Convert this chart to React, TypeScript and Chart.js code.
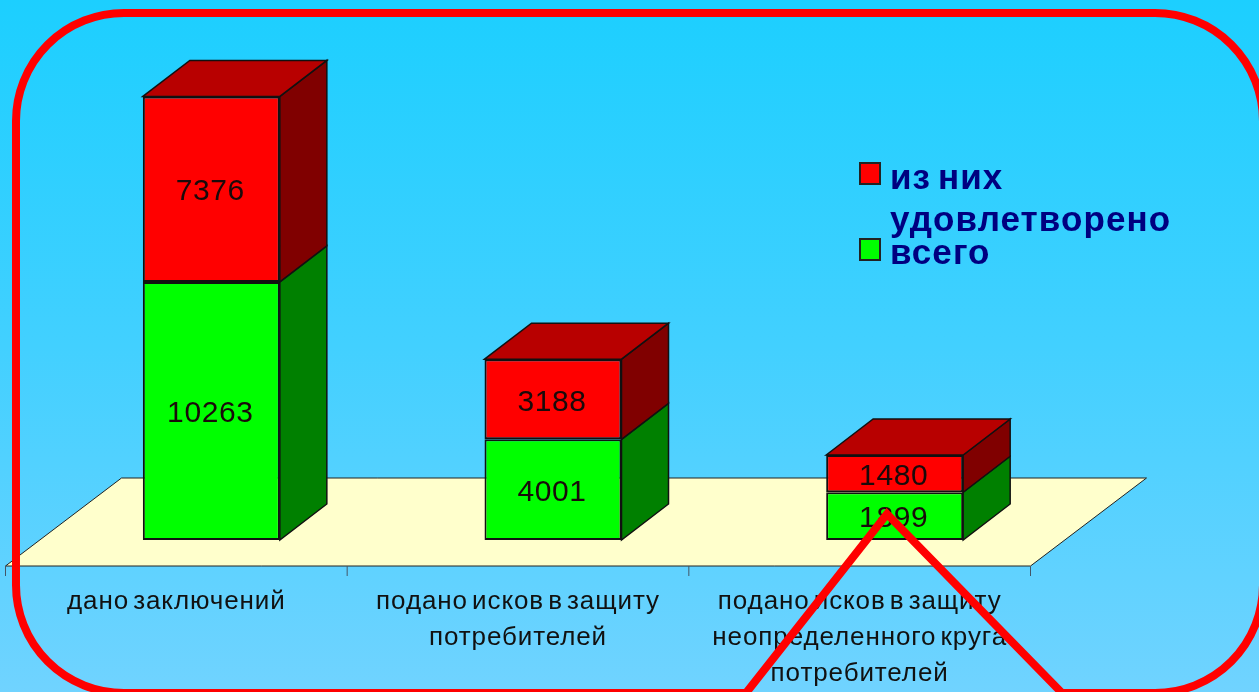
import React, { useEffect, useRef } from "react";
import { Chart, registerables } from "chart.js";

Chart.register(...registerables);

const categories = [
  ["дано заключений"],
  ["подано исков в защиту", "потребителей"],
  ["подано исков в защиту", "неопределенного круга", "потребителей"],
];
const totalValues = [10263, 4001, 1899];
const satisfiedValues = [7376, 3188, 1480];
const totalLabel = "всего";
const satisfiedLabel = "из них удовлетворено";

const DX = 47;
const DY = 36;

const scene = {
  id: "scene",
  beforeDraw(chart: any) {
    const { ctx, width, height } = chart;
    const g = ctx.createLinearGradient(0, 0, 0, height);
    g.addColorStop(0, "#1ccfff");
    g.addColorStop(0.5, "#42d0ff");
    g.addColorStop(1, "#70d3ff");
    ctx.fillStyle = g;
    ctx.fillRect(0, 0, width, height);
    ctx.letterSpacing = "0.9px";
    ctx.wordSpacing = "-4px";
  },
  beforeDatasetsDraw(chart: any) {
    const { ctx, scales } = chart;
    const x = scales.x;
    const bottom = scales.y.bottom;
    const fl = x.left - 35;
    const fr = x.right - 35;
    const fy = bottom + 26;
    ctx.save();
    ctx.fillStyle = "#ffffcc";
    ctx.strokeStyle = "#222";
    ctx.lineWidth = 1;
    ctx.beginPath();
    ctx.moveTo(fl, fy);
    ctx.lineTo(fr, fy);
    ctx.lineTo(fr + 116, fy - 88);
    ctx.lineTo(fl + 116, fy - 88);
    ctx.closePath();
    ctx.fill();
    ctx.stroke();
    ctx.strokeStyle = "#456";
    for (let i = 0; i <= categories.length; i++) {
      const tx = fl + ((fr - fl) * i) / categories.length;
      ctx.beginPath();
      ctx.moveTo(tx, fy);
      ctx.lineTo(tx, fy + 10);
      ctx.stroke();
    }
    const sides = ["#008000", "#800000"];
    chart.data.datasets.forEach((_: any, d: number) => {
      chart.getDatasetMeta(d).data.forEach((bar: any) => {
        const r = bar.x + bar.width / 2;
        ctx.beginPath();
        ctx.moveTo(r, bar.y);
        ctx.lineTo(r + DX, bar.y - DY);
        ctx.lineTo(r + DX, bar.base - DY);
        ctx.lineTo(r, bar.base);
        ctx.closePath();
        ctx.fillStyle = sides[d];
        ctx.fill();
        ctx.strokeStyle = "#111";
        ctx.lineWidth = 1.5;
        ctx.stroke();
      });
    });
    ctx.restore();
  },
  afterDatasetsDraw(chart: any) {
    const { ctx } = chart;
    ctx.save();
    chart.getDatasetMeta(1).data.forEach((bar: any) => {
      const l = bar.x - bar.width / 2;
      const r = bar.x + bar.width / 2;
      ctx.beginPath();
      ctx.moveTo(l, bar.y);
      ctx.lineTo(l + DX, bar.y - DY);
      ctx.lineTo(r + DX, bar.y - DY);
      ctx.lineTo(r, bar.y);
      ctx.closePath();
      ctx.fillStyle = "#b80000";
      ctx.fill();
      ctx.strokeStyle = "#111";
      ctx.lineWidth = 1.5;
      ctx.stroke();
    });
    ctx.fillStyle = "#1a0a0a";
    ctx.font = "30px 'Liberation Sans'";
    ctx.letterSpacing = "0.6px";
    ctx.textAlign = "center";
    ctx.textBaseline = "middle";
    chart.data.datasets.forEach((ds: any, d: number) => {
      chart.getDatasetMeta(d).data.forEach((bar: any, i: number) => {
        ctx.fillText(String(ds.data[i]), bar.x - 1, (bar.y + bar.base) / 2 + 3);
      });
    });
    ctx.restore();
  },
  afterDraw(chart: any) {
    const { ctx } = chart;
    ctx.save();
    // legend
    ctx.font = "bold 35px 'Liberation Sans'";
    ctx.letterSpacing = "1.1px";
    ctx.wordSpacing = "-4px";
    ctx.textAlign = "left";
    ctx.textBaseline = "alphabetic";
    const entries = [
      { ds: chart.data.datasets[1], box: 163, lines: [189, 231] },
      { ds: chart.data.datasets[0], box: 239, lines: [264] },
    ];
    const words = (label: string, n: number) => {
      if (n === 1) return [label];
      const parts = label.split(" ");
      return [parts.slice(0, -1).join(" "), parts[parts.length - 1]];
    };
    entries.forEach((e) => {
      ctx.fillStyle = e.ds.backgroundColor;
      ctx.strokeStyle = "#222";
      ctx.lineWidth = 2;
      ctx.fillRect(860, e.box, 20, 21);
      ctx.strokeRect(860, e.box, 20, 21);
      ctx.fillStyle = "#000080";
      words(e.ds.label, e.lines.length).forEach((t, i) => ctx.fillText(t, 890, e.lines[i]));
    });
    // red callout frame
    const L = 16, T = 13, R = 1263, B = 693, Q = 108;
    ctx.strokeStyle = "#ff0000";
    ctx.lineWidth = 8;
    ctx.lineJoin = "miter";
    ctx.beginPath();
    ctx.moveTo(887, 514);
    ctx.lineTo(746, B);
    ctx.lineTo(L + Q, B);
    ctx.arcTo(L, B, L, B - Q, Q);
    ctx.lineTo(L, T + Q);
    ctx.arcTo(L, T, L + Q, T, Q);
    ctx.lineTo(R - Q, T);
    ctx.arcTo(R, T, R, T + Q, Q);
    ctx.lineTo(R, B - Q);
    ctx.arcTo(R, B, R - Q, B, Q);
    ctx.lineTo(1062, B);
    ctx.closePath();
    ctx.stroke();
    ctx.restore();
  },
};

export default function App() {
  const ref = useRef<HTMLCanvasElement>(null);
  useEffect(() => {
    document.body.style.margin = "0";
    const chart = new Chart(ref.current as HTMLCanvasElement, {
      type: "bar",
      data: {
        labels: categories as any,
        datasets: [
          { label: totalLabel, data: totalValues, backgroundColor: "#00ff00", borderColor: "#111", borderWidth: 2, borderSkipped: false },
          { label: satisfiedLabel, data: satisfiedValues, backgroundColor: "#ff0000", borderColor: "#111", borderWidth: 2, borderSkipped: false },
        ],
      },
      options: {
        responsive: false,
        animation: false,
        barPercentage: 0.401,
        categoryPercentage: 1,
        layout: { padding: { left: 40.5, right: 193.5, top: 37, bottom: 0 } },
        plugins: { legend: { display: false }, tooltip: { enabled: false }, title: { display: false } },
        scales: {
          y: { display: false, stacked: true, min: 0, max: 20000 },
          x: {
            stacked: true,
            grid: { display: false },
            border: { display: false },
            afterFit(s: any) {
              s.height = 152;
              s.paddingLeft = 0;
              s.paddingRight = 0;
            },
            ticks: {
              autoSkip: false,
              maxRotation: 0,
              minRotation: 0,
              labelOffset: -35,
              padding: 36,
              color: "#111",
              font: { family: "'Liberation Sans'", size: 26, lineHeight: 1.385 },
            },
          },
        },
      } as any,
      plugins: [scene],
    });
    return () => chart.destroy();
  }, []);
  return <canvas ref={ref} width={1259} height={692} style={{ display: "block" }} />;
}
